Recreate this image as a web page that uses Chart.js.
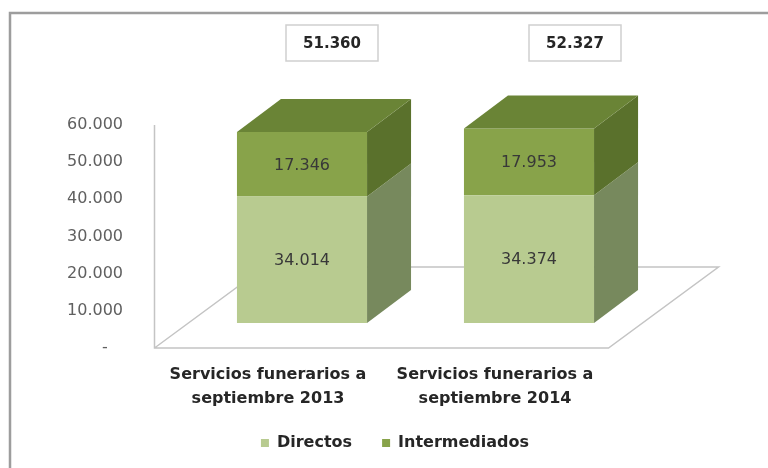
<!DOCTYPE html>
<html><head><meta charset="utf-8">
<script src="https://cdn.jsdelivr.net/npm/chart.js@4/dist/chart.umd.min.js"></script>
<style>html,body{margin:0;padding:0;background:#fff;}#wrap{position:relative;width:768px;height:468px;}</style>
</head><body><div id="wrap"><canvas id="c" width="768" height="468"></canvas></div>
<script>
// ---- data ----
const categories = [["Servicios funerarios a", "septiembre 2013"], ["Servicios funerarios a", "septiembre 2014"]];
const seriesNames = ["Directos", "Intermediados"];
const directos = [34014, 34374];
const intermediados = [17346, 17953];
const yTickValues = [0, 10000, 20000, 30000, 40000, 50000, 60000];

// ---- style ----
const FONT = "'DejaVu Sans', sans-serif";
const frontColors = ["#b8cb90", "#88a34a"];
const sideColors = ["#77895d", "#5a712c"];
const topColor = "#6a8436";
const BAR_DEPTH = { dx: 44, dy: -33 };
const FLOOR_SHIFT = -34;
const FLOOR_DEPTH = { dx: 110, dy: -81 };
const totalDx = [30, 46];
const LEGEND_TOP = 405;

function fmt(n) {
  if (n === 0) return "-";
  return String(n).replace(/\B(?=(\d{3})+(?!\d))/g, ".");
}

const plugin3d = {
  id: "plugin3d",
  afterLayout(chart) {
    const lg = chart.legend;
    if (lg) {
      const h = lg.height;
      lg.top = LEGEND_TOP;
      lg.bottom = LEGEND_TOP + h;
    }
  },
  beforeDraw(chart) {
    const ctx = chart.ctx;
    ctx.save();
    ctx.strokeStyle = "#9d9d9d";
    ctx.lineWidth = 2.5;
    ctx.beginPath();
    ctx.moveTo(10, chart.height);
    ctx.lineTo(10, 13);
    ctx.lineTo(chart.width, 13);
    ctx.stroke();
    ctx.restore();
  },
  beforeDatasetsDraw(chart) {
    const ctx = chart.ctx, ca = chart.chartArea, ys = chart.scales.y;
    const y0 = ys.getPixelForValue(0);
    const yTop = ys.getPixelForValue(yTickValues[yTickValues.length - 1]);
    const l = ca.left + FLOOR_SHIFT, r = ca.right + FLOOR_SHIFT;
    ctx.save();
    ctx.strokeStyle = "#c4c4c4";
    ctx.lineWidth = 1.5;
    ctx.beginPath();
    ctx.moveTo(l, yTop);
    ctx.lineTo(l, y0);
    ctx.lineTo(r, y0);
    ctx.lineTo(r + FLOOR_DEPTH.dx, y0 + FLOOR_DEPTH.dy);
    ctx.lineTo(l + FLOOR_DEPTH.dx, y0 + FLOOR_DEPTH.dy);
    ctx.lineTo(l, y0);
    ctx.stroke();
    ctx.restore();
  },
  afterDatasetsDraw(chart) {
    const ctx = chart.ctx;
    const n = chart.data.datasets.length;
    ctx.save();
    for (let d = 0; d < n; d++) {
      const meta = chart.getDatasetMeta(d);
      meta.data.forEach((bar) => {
        const p = bar.getProps(["x", "y", "base", "width"], true);
        const left = p.x - p.width / 2, right = p.x + p.width / 2;
        ctx.fillStyle = sideColors[d];
        ctx.beginPath();
        ctx.moveTo(right, p.y);
        ctx.lineTo(right + BAR_DEPTH.dx, p.y + BAR_DEPTH.dy);
        ctx.lineTo(right + BAR_DEPTH.dx, p.base + BAR_DEPTH.dy);
        ctx.lineTo(right, p.base);
        ctx.closePath();
        ctx.fill();
        if (d === n - 1) {
          ctx.fillStyle = topColor;
          ctx.beginPath();
          ctx.moveTo(left, p.y);
          ctx.lineTo(left + BAR_DEPTH.dx, p.y + BAR_DEPTH.dy);
          ctx.lineTo(right + BAR_DEPTH.dx, p.y + BAR_DEPTH.dy);
          ctx.lineTo(right, p.y);
          ctx.closePath();
          ctx.fill();
        }
      });
    }
    ctx.font = "16px " + FONT;
    ctx.fillStyle = "#383838";
    ctx.textAlign = "center";
    ctx.textBaseline = "middle";
    for (let d = 0; d < n; d++) {
      const meta = chart.getDatasetMeta(d);
      const vals = chart.data.datasets[d].data;
      meta.data.forEach((bar, i) => {
        const p = bar.getProps(["x", "y", "base"], true);
        ctx.fillText(fmt(vals[i]), p.x, (p.y + p.base) / 2 + 1);
      });
    }
    const topMeta = chart.getDatasetMeta(n - 1);
    topMeta.data.forEach((bar, i) => {
      const total = directos[i] + intermediados[i];
      const cx = bar.x + totalDx[i];
      const cy = chart.chartArea.top - 82;
      const w = 92, h = 36;
      ctx.fillStyle = "#ffffff";
      ctx.fillRect(cx - w / 2, cy - h / 2, w, h);
      ctx.strokeStyle = "#cfcfcf";
      ctx.lineWidth = 1.5;
      ctx.strokeRect(cx - w / 2, cy - h / 2, w, h);
      ctx.font = "bold 15px " + FONT;
      ctx.fillStyle = "#262626";
      ctx.fillText(fmt(total), cx, cy + 1);
    });
    ctx.restore();
  }
};

new Chart(document.getElementById("c"), {
  type: "bar",
  data: {
    labels: categories,
    datasets: [
      { label: seriesNames[0], data: directos, backgroundColor: frontColors[0], yAxisID: "yb", borderWidth: 0 },
      { label: seriesNames[1], data: intermediados, backgroundColor: frontColors[1], yAxisID: "yb", borderWidth: 0 }
    ]
  },
  options: {
    responsive: false,
    animation: false,
    devicePixelRatio: 1,
    layout: { padding: { left: 50, right: 28, top: 125, bottom: 0 } },
    datasets: { bar: { categoryPercentage: 1, barPercentage: 0.573 } },
    scales: {
      x: {
        type: "category",
        stacked: true,
        grid: { display: false, drawTicks: false },
        border: { display: false },
        ticks: {
          font: { family: FONT, size: 16, weight: "bold", lineHeight: 1.5 },
          color: "#262626",
          padding: 15,
          labelOffset: FLOOR_SHIFT,
          maxRotation: 0,
          autoSkip: false
        },
        afterFit: (s) => { s.height = 64; }
      },
      y: {
        type: "linear",
        position: "left",
        min: yTickValues[0],
        max: yTickValues[yTickValues.length - 1],
        afterBuildTicks: (s) => { s.ticks = yTickValues.map(v => ({ value: v })); },
        grid: { display: false, drawTicks: false },
        border: { display: false },
        ticks: {
          font: { family: FONT, size: 16 },
          color: "#606060",
          padding: 65.5,
          callback: (v) => (v === 0 ? fmt(v) + "   " : fmt(v))
        },
        afterFit: (s) => { s.width = 138.5; }
      },
      yr: {
        type: "linear",
        position: "right",
        grid: { display: false, drawTicks: false },
        border: { display: false },
        ticks: { display: false },
        afterFit: (s) => { s.width = 97.5; }
      },
      yb: {
        type: "linear",
        display: false,
        stacked: true,
        min: -6726,
        max: 53274
      }
    },
    plugins: {
      legend: {
        position: "bottom",
        labels: {
          boxWidth: 8,
          boxHeight: 8,
          padding: 30,
          color: "#262626",
          font: { family: FONT, size: 16, weight: "bold" }
        }
      },
      tooltip: { enabled: false }
    }
  },
  plugins: [plugin3d]
});
</script>
</body></html>
